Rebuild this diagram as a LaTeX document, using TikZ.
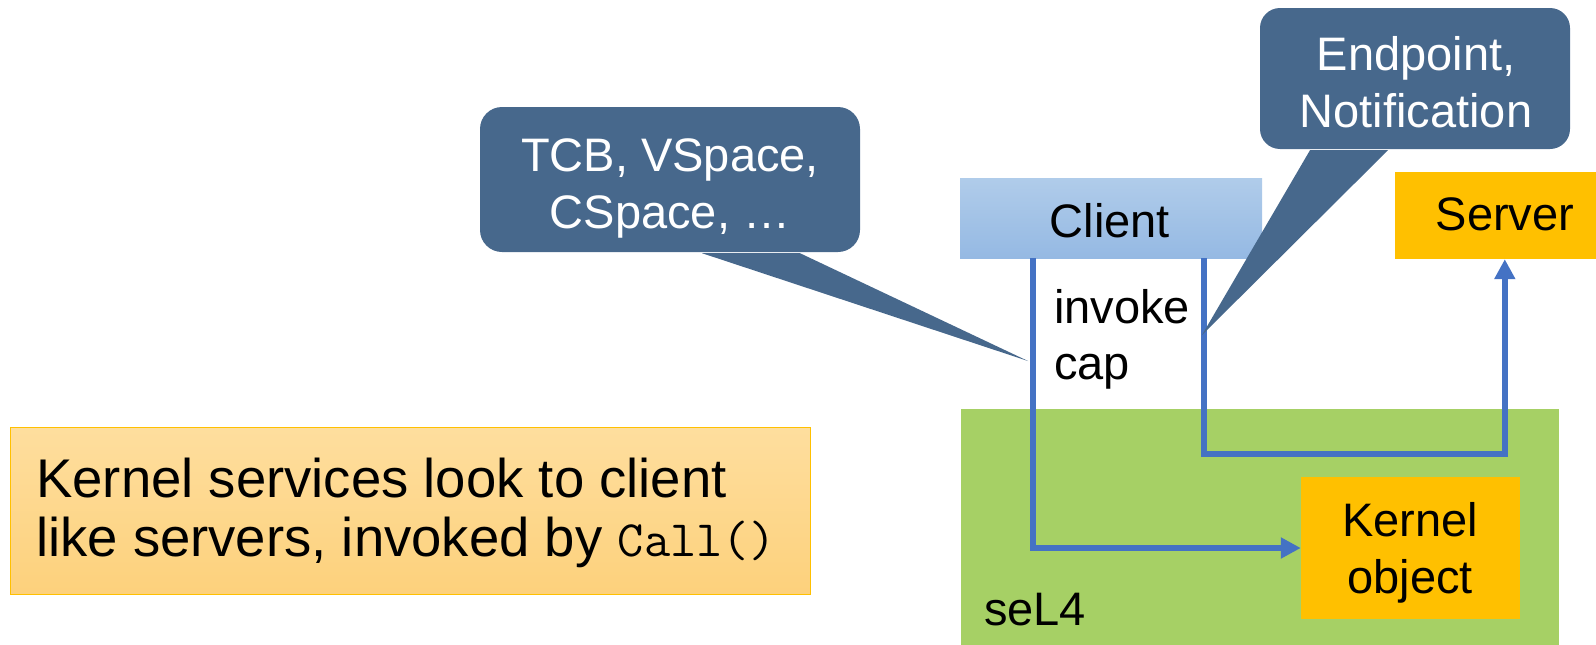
\documentclass[tikz,border=0pt]{standalone}
\usepackage{fontspec}
\setmainfont{Liberation Sans}
\usetikzlibrary{arrows.meta}
\definecolor{calloutc}{RGB}{71,104,140}
\definecolor{kgreen}{RGB}{166,208,101}
\definecolor{korange}{RGB}{255,192,0}
\definecolor{linkc}{RGB}{68,114,196}
\definecolor{clienttop}{RGB}{176,204,234}
\definecolor{clientbot}{RGB}{149,185,227}
\definecolor{notetop}{RGB}{254,222,158}
\definecolor{notebot}{RGB}{253,209,124}
\tikzset{
  bigtext/.style={font=\fontsize{47}{57}\selectfont, inner sep=0pt},
  calloutbox/.style={fill=calloutc, rounded corners=22pt, inner sep=0pt},
  callouttext/.style={bigtext, text=white, align=center},
  orangebox/.style={fill=korange, inner sep=0pt},
  conn/.style={draw=linkc, line width=6pt, -{Triangle[width=20pt,length=20pt]}}
}
\begin{document}
\begin{tikzpicture}[x=1pt,y=-1pt]
\useasboundingbox (0,0) rectangle (1596,645);
% seL4 area
\fill[kgreen] (961,409) rectangle (1559,645);
\node[bigtext, anchor=base west] (sel4) at (984,625) {seL4};
% kernel object
\node[orangebox, minimum width=219pt, minimum height=142pt] (kobj) at (1410.5,548) {};
\node[bigtext, align=center, anchor=base] (kobjtext) at (1410,593) {Kernel\\object};
% client
\node[inner sep=0pt, minimum width=302pt, minimum height=80pt, top color=clienttop, bottom color=clientbot] (client) at (1111,218) {};
\node[bigtext, anchor=base] (clienttext) at (1110,237) {Client};
% server
\node[orangebox, minimum width=205pt, minimum height=87pt] (server) at (1497.5,215.5) {};
\node[bigtext, anchor=base] (servertext) at (1505,230) {Server};
% invoke cap
\node[bigtext, align=left, anchor=base west, font=\fontsize{47}{56}\selectfont] (invoke) at (1054,379) {invoke\\cap};
% connectors
\draw[conn] ([xshift=73pt]client.south west) |- (kobj.west);
\draw[conn] ([xshift=244pt]client.south west) -- ++(0,196) -| ([xshift=110pt]server.south west);
% callout 1
\node[calloutbox, minimum width=380pt, minimum height=145pt] (tcb) at (670,179.5) {};
\coordinate (tcbtip) at (1028,361);
\fill[calloutc] ([xshift=32pt,yshift=-1pt]tcb.south) -- (tcbtip) -- ([xshift=130pt,yshift=-1pt]tcb.south) -- cycle;
\node[callouttext, anchor=base] (tcbtext) at (670,228) {TCB, VSpace,\\CSpace, …};
% callout 2
\node[calloutbox, rounded corners=20pt, minimum width=310pt, minimum height=141pt] (ep) at (1415,78.5) {};
\coordinate (eptip) at (1202,335);
\fill[calloutc] ([xshift=-105pt,yshift=-1pt]ep.south) -- (eptip) -- ([xshift=-27pt,yshift=-1pt]ep.south) -- cycle;
\node[callouttext, anchor=base] (eptext) at (1416,127) {Endpoint,\\Notification};
% note
\node[inner sep=0pt, minimum width=800pt, minimum height=167pt, top color=notetop, bottom color=notebot, draw=korange, line width=1pt] (note) at (410,510.5) {};
\node[inner sep=0pt, anchor=base west, align=left, font=\fontsize{54.5}{59}\selectfont] (notetext) at (36,556) {Kernel services look to client\\like servers, invoked by {\ttfamily\fontsize{51}{59}\selectfont Call()}};
\end{tikzpicture}
\end{document}
